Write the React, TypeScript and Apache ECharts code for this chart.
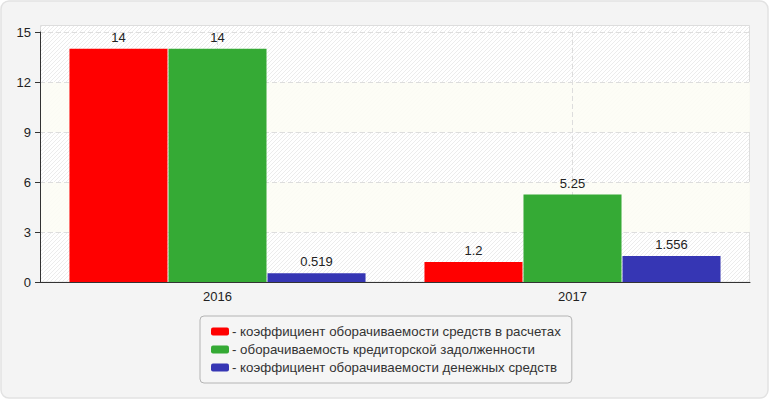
import React, { useEffect, useRef } from "react";
import * as echarts from "echarts";

const categories = ["2016", "2017"];
const seriesNames = [
  "коэффициент оборачиваемости средств в расчетах",
  "оборачиваемость кредиторской задолженности",
  "коэффициент оборачиваемости денежных средств",
];
const receivablesTurnover = [14, 1.2];
const payablesTurnover = [14, 5.25];
const cashTurnover = [0.519, 1.556];
const seriesColors = ["#ff0000", "#35aa35", "#3636b4"];
const seriesValues = [receivablesTurnover, payablesTurnover, cashTurnover];

function makeHatch(): any {
  const c = document.createElement("canvas");
  c.width = 4;
  c.height = 4;
  const ctx = c.getContext("2d");
  if (!ctx) return "#f8f8f8";
  ctx.fillStyle = "#ffffff";
  ctx.fillRect(0, 0, 4, 4);
  ctx.strokeStyle = "#ececec";
  ctx.lineWidth = 1;
  ctx.beginPath();
  ctx.moveTo(0, 4);
  ctx.lineTo(4, 0);
  ctx.moveTo(-1, 1);
  ctx.lineTo(1, -1);
  ctx.moveTo(3, 5);
  ctx.lineTo(5, 3);
  ctx.stroke();
  return { image: c, repeat: "repeat" };
}

export default function App() {
  const ref = useRef<HTMLDivElement>(null);
  useEffect(() => {
    if (!ref.current) return;
    const chart = echarts.init(ref.current, undefined, { renderer: "svg" });
    const font = "Arial, 'Liberation Sans', sans-serif";
    const hatch = makeHatch();
    chart.setOption({
      animation: false,
      textStyle: { fontFamily: font },
      graphic: [
        {
          type: "rect",
          z: -20,
          silent: true,
          shape: { x: 1, y: 1, width: 767, height: 397, r: 8 },
          style: { fill: "#f4f4f4", stroke: "#e2e2e2", lineWidth: 1.5 },
        },
        {
          type: "rect",
          z: -10,
          silent: true,
          shape: { x: 40.5, y: 25.5, width: 709, height: 256.5 },
          style: { fill: hatch, stroke: "#dddddd", lineWidth: 1 },
        },
      ],
      grid: { left: 40, right: 20, top: 32, bottom: 118 },
      legend: {
        orient: "vertical",
        left: 200,
        top: 316,
        padding: [8, 11, 8, 11],
        backgroundColor: "#f5f5f5",
        borderColor: "#b4b4b4",
        borderWidth: 1,
        borderRadius: 4,
        itemWidth: 18,
        itemHeight: 8,
        itemGap: 3,
        icon: "roundRect",
        formatter: "- {name}",
        textStyle: { fontSize: 13.3, color: "#333", fontFamily: font, lineHeight: 15, padding: [0, 0, 0, -2] },
        data: seriesNames,
      },
      xAxis: [
        {
          type: "category",
          data: categories,
          axisLine: { lineStyle: { color: "#333", width: 1 } },
          axisTick: { alignWithLabel: true, length: 5, lineStyle: { color: "#333" } },
          axisLabel: { color: "#222", fontSize: 13, margin: 8, fontFamily: font },
          splitLine: { show: false },
        },
        {
          type: "category",
          data: ["", "", "", "", ""],
          boundaryGap: false,
          position: "bottom",
          axisLine: { show: false },
          axisTick: { show: false },
          axisLabel: { show: false },
          splitLine: {
            show: true,
            interval: (i: number) => i === 1 || i === 3,
            lineStyle: { color: "#dddddd", type: [5, 3], width: 1 },
          },
        },
      ],
      yAxis: {
        type: "value",
        min: 0,
        max: 15,
        interval: 3,
        axisLine: { show: true, lineStyle: { color: "#333", width: 1 } },
        axisTick: { show: true, length: 5, lineStyle: { color: "#333" } },
        axisLabel: { color: "#222", fontSize: 13, margin: 9, fontFamily: font },
        splitLine: { show: true, lineStyle: { color: "#dddddd", type: [5, 3], width: 1 } },
        splitArea: {
          show: true,
          areaStyle: { color: ["rgba(0,0,0,0)", "rgba(253,253,245,0.9)"] },
        },
      },
      series: seriesNames.map((name, i) => ({
        name,
        type: "bar",
        xAxisIndex: 0,
        data: seriesValues[i],
        barCategoryGap: "16.6%",
        barGap: "1%",
        itemStyle: { color: seriesColors[i] },
        label: {
          show: true,
          position: "top",
          distance: 5,
          color: "#222",
          fontSize: 13,
          fontFamily: font,
        },
      })),
    });
    return () => chart.dispose();
  }, []);
  return (
    <div
      ref={ref}
      style={{ position: "absolute", left: 0, top: 0, width: 770, height: 400 }}
    />
  );
}
